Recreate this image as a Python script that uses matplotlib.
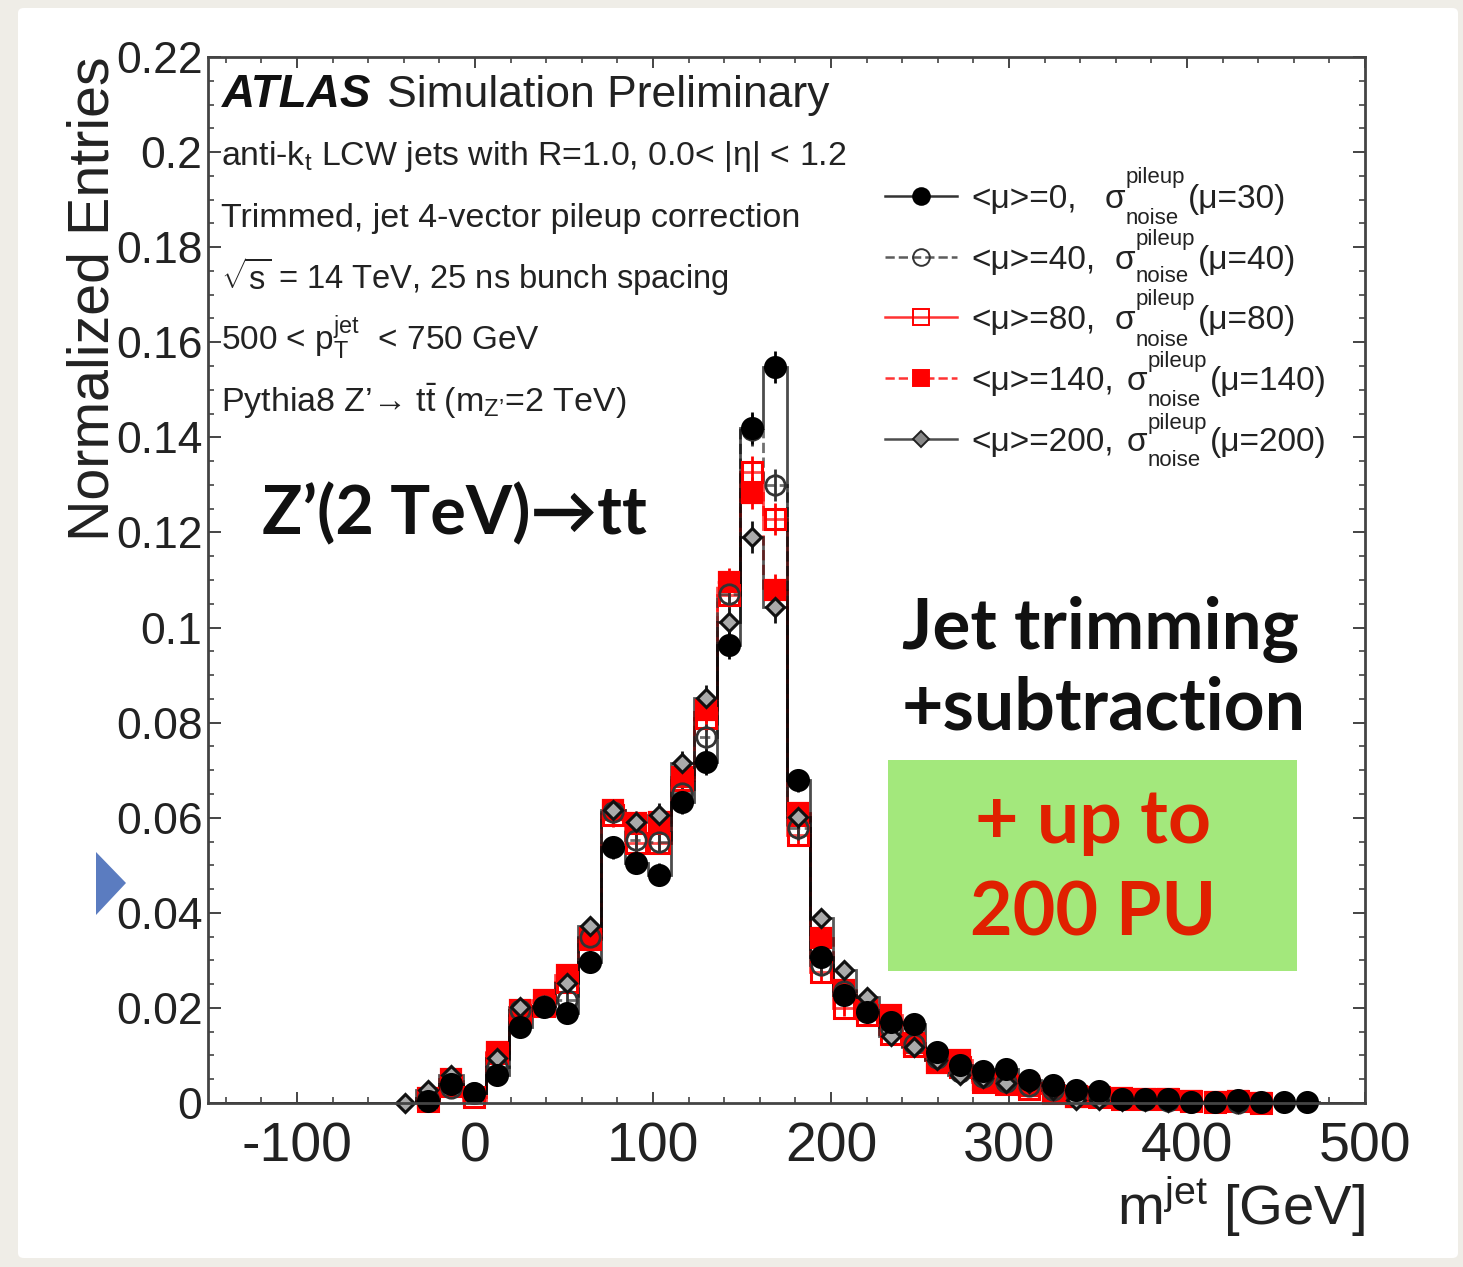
from matplotlib import pyplot as plt
from matplotlib.lines import Line2D
from matplotlib.patches import Rectangle, Polygon, FancyBboxPatch
from matplotlib.ticker import MultipleLocator, FixedFormatter, FixedLocator
import numpy as np

# 50 bins from -150 to 500, bins below -46 are empty
bin_edges = np.linspace(-150, 500, 51)
n_empty_low = 8
n_empty_high = 2

mu0_vals = [0, 0.0005, 0.004, 0.002, 0.0059, 0.016, 0.0202, 0.0189, 0.0297, 0.0538,
            0.0505, 0.048, 0.0633, 0.0717, 0.0963, 0.142, 0.1548, 0.0679, 0.0307, 0.0227,
            0.0191, 0.017, 0.0166, 0.0107, 0.008, 0.0067, 0.0071, 0.0048, 0.0038, 0.0027,
            0.0025, 0.0008, 0.0008, 0.0008, 0.0003, 0.0003, 0.0006, 0.0002, 0.0002, 0.0002]
mu40_vals = [0, 0.001, 0.0032, 0.002, 0.0076, 0.0195, 0.0205, 0.0217, 0.035, 0.0612,
             0.0553, 0.0549, 0.0652, 0.077, 0.107, 0.1415, 0.13, 0.0578, 0.029, 0.0235,
             0.0195, 0.0155, 0.0125, 0.0095, 0.0065, 0.0055, 0.0045, 0.0035, 0.0028, 0.0018,
             0.0012, 0.0008, 0.0006, 0.0004, 0.0002, 0.0002, 0.0001, 0, 0, 0]
mu80_vals = [0, 0.0005, 0.0035, 0.0013, 0.0105, 0.0185, 0.0205, 0.0255, 0.0345, 0.0605,
             0.0547, 0.0547, 0.068, 0.081, 0.1068, 0.1327, 0.1228, 0.0564, 0.0275, 0.02,
             0.0185, 0.0145, 0.012, 0.009, 0.0075, 0.0045, 0.004, 0.003, 0.0022, 0.0014,
             0.0012, 0.0009, 0.0008, 0.0008, 0.0005, 0.0003, 0.0004, 0.0001, 0, 0]
mu140_vals = [0, 0.001, 0.005, 0, 0.0107, 0.0196, 0.0217, 0.0269, 0.0347, 0.0616,
              0.0588, 0.0592, 0.0686, 0.0827, 0.1096, 0.1283, 0.1079, 0.061, 0.0347, 0.0238,
              0.0196, 0.0185, 0.0126, 0.0084, 0.009, 0.0048, 0.0042, 0.0035, 0.0022, 0.0013,
              0.0013, 0.001, 0.0008, 0.0008, 0.0005, 0.0003, 0.0005, 0.0001, 0, 0]
mu200_vals = [0.0001, 0.0027, 0.0059, 0.002, 0.0095, 0.0202, 0.0205, 0.0252, 0.0372, 0.0616,
              0.0591, 0.0606, 0.0715, 0.0852, 0.1012, 0.119, 0.1043, 0.0602, 0.0389, 0.028,
              0.0223, 0.014, 0.0118, 0.009, 0.0059, 0.0052, 0.0042, 0.0042, 0.0028, 0.0007,
              0.0006, 0.0005, 0.0004, 0.0003, 0.0002, 0.0002, 0.0001, 0, 0, 0]
# error bar half size per bin, same for all curves
err_vals = [0.0006, 0.0008, 0.001, 0.001, 0.0014, 0.0016, 0.0016, 0.0018, 0.002, 0.0024,
            0.0024, 0.0024, 0.0026, 0.0028, 0.003, 0.0034, 0.0034, 0.0024, 0.0018, 0.0016,
            0.0014, 0.0014, 0.0012, 0.001, 0.001, 0.0008, 0.0008, 0.0007, 0.0006, 0.0006,
            0.0005, 0.0004, 0.0004, 0.0004, 0.0003, 0.0003, 0.0003, 0.0002, 0.0002, 0.0002]

x_ticks = [-100, 0, 100, 200, 300, 400, 500]
x_tick_labels = ['-100', '0', '100', '200', '300', '400', '500']
y_ticks = [0, 0.02, 0.04, 0.06, 0.08, 0.1, 0.12, 0.14, 0.16, 0.18, 0.2, 0.22]
y_tick_labels = ['0', '0.02', '0.04', '0.06', '0.08', '0.1', '0.12', '0.14', '0.16', '0.18', '0.2', '0.22']

info_lines = [r"anti-k$_{\mathrm{t}}$ LCW jets with R=1.0, 0.0< |η| < 1.2",
              "Trimmed, jet 4-vector pileup correction",
              r"$\sqrt{\mathrm{s}}$ = 14 TeV, 25 ns bunch spacing",
              r"500 < p$_{\mathrm{T}}^{\mathrm{jet}}$  < 750 GeV",
              r"Pythia8 Z’→ t$\bar{\mathrm{t}}$ (m$_{\mathrm{Z’}}$=2 TeV)"]
info_y = [165, 227, 289, 350, 412]
info_size = [24.4, 24.5, 23.5, 24, 24.5]

legend_left = ["<μ>=0,", "<μ>=40,", "<μ>=80,", "<μ>=140,", "<μ>=200,"]
legend_right = ["(μ=30)", "(μ=40)", "(μ=80)", "(μ=140)", "(μ=200)"]

W, H = 1463, 1267
plt.rcParams['font.family'] = ['Liberation Sans', 'DejaVu Sans']
plt.rcParams['mathtext.fontset'] = 'custom'
plt.rcParams['mathtext.rm'] = 'Liberation Sans'
plt.rcParams['mathtext.it'] = 'Liberation Sans:italic'
plt.rcParams['mathtext.bf'] = 'Liberation Sans:bold'

text_col = '#222222'


def fx(x):
    return x / W


def fy(y):
    return 1 - y / H


def pad(vals):
    return np.array([0] * n_empty_low + vals + [0] * n_empty_high, dtype=float)


fig = plt.figure(figsize=(W / 100, H / 100), dpi=100, facecolor='#efede7')
fig.add_artist(FancyBboxPatch((fx(18), fy(1258)), (1458 - 18) / W, (1258 - 8) / H, boxstyle='round,pad=0,rounding_size=0.004',
                              transform=fig.transFigure, fc='white', ec='none', zorder=-1))
ax = fig.add_axes([fx(208), fy(1103), (1365 - 208) / W, (1103 - 57) / H])
ax.set_facecolor('none')
ax.set_xlim(-150, 500)
ax.set_ylim(0, 0.22)

centers = 0.5 * (bin_edges[1:] + bin_edges[:-1])

# draw order follows which markers sit on top in the picture
series = [
    (mu80_vals, '#ff0000', '-', 's', 'none', 15, 2.2),
    (mu140_vals, '#ff0000', '--', 's', '#ff0000', 15, 1.6),
    (mu40_vals, '#333333', '--', 'o', 'none', 14, 2.0),
    (mu200_vals, '#111111', '-', 'D', '#aaaaaa', 9, 2.2),
    (mu0_vals, '#000000', '-', 'o', '#000000', 15, 1.6),
]
full_err = pad(err_vals)
for vals, col, ls, mk, mfc, ms, mew in series:
    full = pad(vals)
    ax.stairs(full, bin_edges, color=col, linestyle=ls, linewidth=2, alpha=0.7, baseline=None)
    use = full > 0
    ax.errorbar(centers[use], full[use], yerr=full_err[use], fmt=mk, color=col, mfc=mfc, mec=col,
                ms=ms, mew=mew, elinewidth=2, capsize=0, clip_on=False)

ax.xaxis.set_major_locator(FixedLocator(x_ticks))
ax.xaxis.set_major_formatter(FixedFormatter(x_tick_labels))
ax.xaxis.set_minor_locator(MultipleLocator(20))
ax.yaxis.set_major_locator(FixedLocator(y_ticks))
ax.yaxis.set_major_formatter(FixedFormatter(y_tick_labels))
ax.yaxis.set_minor_locator(MultipleLocator(0.005))
ax.tick_params(axis='x', which='major', direction='in', top=True, length=8, width=1.4, labelsize=40, pad=13, color='#444444', labelcolor=text_col)
ax.tick_params(axis='x', which='minor', direction='in', top=True, length=4, width=1.2, color='#444444')
ax.tick_params(axis='y', which='major', direction='in', right=True, length=9, width=1.4, labelsize=32, pad=4, color='#444444', labelcolor=text_col)
ax.tick_params(axis='y', which='minor', direction='in', right=True, length=4.5, width=1.2, color='#444444')
for sp in ax.spines.values():
    sp.set_linewidth(2)
    sp.set_color('#444444')

fig.text(fx(94), fy(56), "Normalized Entries", rotation=90, ha='center', va='top', fontsize=41.3, color=text_col)
fig.text(fx(1365), fy(1225), r"m$^{\mathrm{jet}}$ [GeV]", ha='right', va='baseline', fontsize=40.5, color=text_col)

fig.text(fx(222), fy(107), "ATLAS", fontsize=33, style='italic', weight='bold', color='#111111')
fig.text(fx(387), fy(107), "Simulation Preliminary", fontsize=32, color=text_col)
for line, y, fs in zip(info_lines, info_y, info_size):
    fig.text(fx(221), fy(y), line, fontsize=fs, va='baseline', color=text_col)

# legend, drawn by hand to get the stacked sigma labels
legend_y = [197, 258, 318, 379, 440]
legend_sigma_x = [1105, 1115, 1115, 1127, 1127]
pileup_y = [178, 240, 300, 362, 424]
noise_y = [219, 277, 340, 400, 461]
legend_style = [('#000000', '-', 'o', '#000000', 12), ('#333333', '--', 'o', 'none', 12), ('#ff0000', '-', 's', 'none', 12),
                ('#ff0000', '--', 's', '#ff0000', 12), ('#222222', '-', 'D', '#888888', 8)]
for i, y in enumerate(legend_y):
    col, ls, mk, mfc, ms = legend_style[i]
    fig.add_artist(Line2D([fx(885), fx(957)], [fy(y - 1), fy(y - 1)], color=col, linestyle=ls, linewidth=1.8, alpha=0.8))
    fig.add_artist(Line2D([fx(921)], [fy(y - 1)], marker=mk, mfc=mfc, mec=col, ms=ms, mew=1.4, color=col))
    fig.text(fx(971), fy(y + 11), legend_left[i], fontsize=24, va='baseline', color=text_col)
    sx = legend_sigma_x[i]
    fig.text(fx(sx), fy(y + 11), "σ", fontsize=24, va='baseline', color=text_col)
    fig.text(fx(sx + 21), fy(pileup_y[i]), "pileup", fontsize=16, va='center', color=text_col)
    fig.text(fx(sx + 21), fy(noise_y[i]), "noise", fontsize=16, va='center', color=text_col)
    fig.text(fx(sx + 83), fy(y + 11), legend_right[i], fontsize=24, va='baseline', color=text_col)

fig.text(fx(262), fy(534), "Z’(2 TeV)→tt", fontsize=48, family=['Lato', 'DejaVu Sans'], weight='bold', va='baseline', color='#111111')
fig.text(fx(902), fy(649), "Jet trimming", fontsize=51, family='Lato', weight='bold', va='baseline', color='#111111')
fig.text(fx(902), fy(729), "+subtraction", fontsize=51.5, family='Lato', weight='bold', va='baseline', color='#111111')

fig.add_artist(Rectangle((fx(888), fy(971)), (1297 - 888) / W, (971 - 760) / H, transform=fig.transFigure,
                         fc='#a3e87c', ec='none'))
fig.text(fx(1093), fy(843), "+ up to", fontsize=54, family='Lato', weight='bold', ha='center', va='baseline', color='#e02000')
fig.text(fx(1093), fy(935), "200 PU", fontsize=53, family='Lato', weight='bold', ha='center', va='baseline', color='#e02000')

fig.add_artist(Polygon([[fx(96), fy(852)], [fx(126), fy(883)], [fx(96), fy(915)]], closed=True,
                       transform=fig.transFigure, fc='#5b7cc0', ec='none'))

fig.savefig('out.png', dpi=100, facecolor=fig.get_facecolor())
